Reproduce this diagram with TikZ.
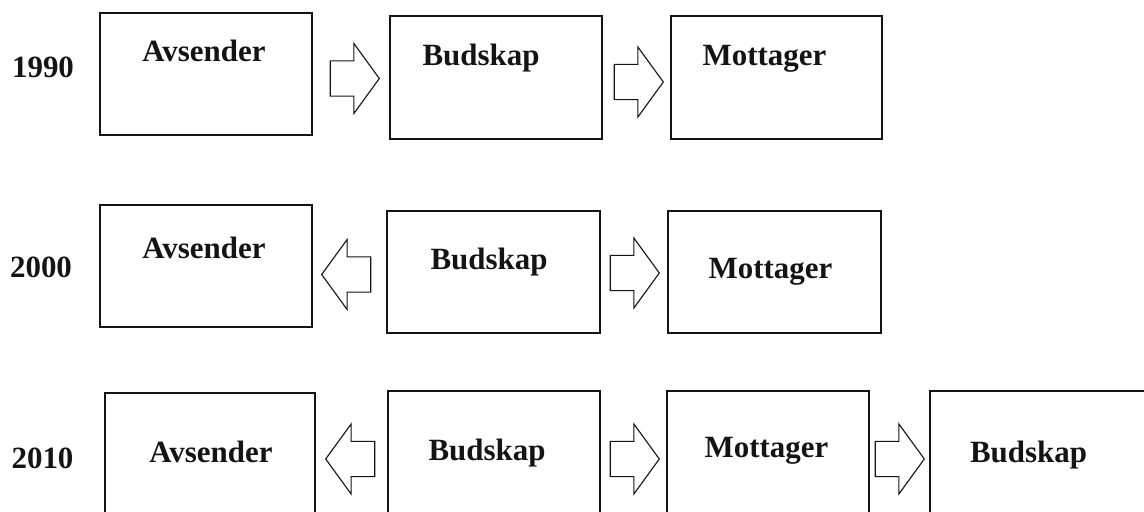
\documentclass[tikz,border=0pt]{standalone}
\usepackage{fontspec}
\setmainfont{Liberation Serif}
\definecolor{ink}{RGB}{20,20,20}
\usetikzlibrary{shapes.arrows}

\begin{document}
\begin{tikzpicture}[x=0.025cm,y=-0.025cm,
    msgbox/.style={draw=ink,line width=1.4pt,rectangle,inner sep=0pt,minimum width=5.3cm,minimum height=3.05cm},
    boxtext/.style={anchor=base,font=\fontsize{22}{26}\selectfont\bfseries,text=ink,inner sep=0pt},
    yeartext/.style={boxtext},
    flowR/.style={draw=ink,line width=0.8pt,single arrow,single arrow head extend=0.4375cm,
      single arrow tip angle=108,inner xsep=0pt,inner ysep=0.425cm,minimum height=1.225cm,anchor=tip},
    flowL/.style={flowR,shape border rotate=180}]
  \clip (0,0) rectangle (1144,512);
  % 1990
  \node[yeartext] (y1990) at (43,78) {1990};
  \node[msgbox] (a1) at (206,74) {};
  \node[flowR] (p1) at (380,78.5) {};
  \node[msgbox] (b1) at (496,77.5) {};
  \node[flowR] (p2) at (664,82) {};
  \node[msgbox,minimum width=5.275cm] (m1) at (776.5,77.5) {};
  \node[boxtext] (ta1) at (204,62) {Avsender};
  \node[boxtext] (tb1) at (481,66) {Budskap};
  \node[boxtext] (tm1) at (764.5,66) {Mottager};
  % 2000
  \node[yeartext] (y2000) at (41,277) {2000};
  \node[msgbox] (a2) at (206,266) {};
  \node[flowL] (p3) at (321,274.5) {};
  \node[msgbox] (b2) at (493.5,272) {};
  \node[flowR] (p4) at (660,273) {};
  \node[msgbox] (m2) at (774.5,272) {};
  \node[boxtext] (ta2) at (204,258) {Avsender};
  \node[boxtext] (tb2) at (489,269) {Budskap};
  \node[boxtext] (tm2) at (770.5,278) {Mottager};
  % 2010
  \node[yeartext] (y2010) at (42.5,468) {2010};
  \node[msgbox,minimum width=5.25cm] (a3) at (210,454) {};
  \node[flowL] (p5) at (325,459) {};
  \node[msgbox] (b3) at (494,452) {};
  \node[flowR] (p6) at (660,459) {};
  \node[msgbox,minimum width=5.05cm] (m3) at (768,452) {};
  \node[flowR] (p7) at (925,459) {};
  \node[msgbox,minimum width=5.4cm] (b4) at (1038,452) {};
  \node[boxtext] (ta3) at (211,462) {Avsender};
  \node[boxtext] (tb3) at (487,460) {Budskap};
  \node[boxtext] (tm3) at (766.5,457) {Mottager};
  \node[boxtext] (tb4) at (1028.5,462) {Budskap};
\end{tikzpicture}
\end{document}
